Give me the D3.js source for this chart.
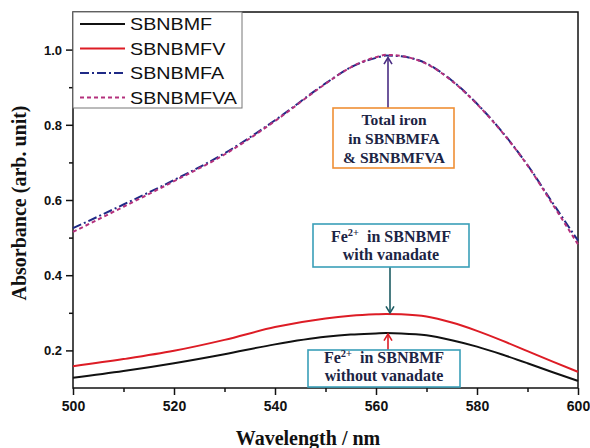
<!DOCTYPE html>
<html>
<head>
<meta charset="utf-8">
<script src="https://cdn.jsdelivr.net/npm/d3@7"></script>
<style>
body{margin:0;background:#fff;}
svg{display:block;}
text{white-space:pre;}
</style>
</head>
<body>
<div id="chart"></div>
<script>
const wavelengths=[500,510,520,530,540,550,555,560,562,565,570,575,580,585,590,595,600];
const sbnbmf=[0.127,0.145,0.166,0.190,0.216,0.236,0.242,0.245,0.246,0.245,0.240,0.227,0.210,0.189,0.166,0.142,0.119];
const sbnbmfv=[0.158,0.177,0.199,0.228,0.262,0.285,0.292,0.296,0.297,0.296,0.290,0.274,0.252,0.226,0.198,0.170,0.143];
const sbnbmfa=[0.525,0.588,0.653,0.724,0.812,0.910,0.953,0.978,0.984,0.982,0.963,0.918,0.856,0.781,0.693,0.592,0.492];
const sbnbmfva=[0.515,0.582,0.650,0.721,0.810,0.909,0.953,0.980,0.986,0.983,0.962,0.917,0.855,0.780,0.692,0.588,0.482];
const seriesNames=["SBNBMF","SBNBMFV","SBNBMFA","SBNBMFVA"];
const xTicks=[500,520,540,560,580,600];
const xMinor=[510,530,550,570,590];
const yTicks=[0.2,0.4,0.6,0.8,1.0];
const yMinor=[0.3,0.5,0.7,0.9];

const W=590,H=448;
const svg=d3.select("#chart").append("svg").attr("width",W).attr("height",H);

const x=d3.scaleLinear().domain([500,600]).range([73,578]);
const y=d3.scaleLinear().domain([0.1,1.1]).range([388,12]);

const styles=[
  {data:sbnbmf,color:"#111111",dash:null},
  {data:sbnbmfv,color:"#dd1c25",dash:null},
  {data:sbnbmfa,color:"#1f2a86",dash:"9,3,2,3"},
  {data:sbnbmfva,color:"#b4307c",dash:"4,3"}
];

const line=d3.line().x(d=>x(d[0])).y(d=>y(d[1])).curve(d3.curveMonotoneX);

// axes
const bottom=svg.append("g").attr("transform","translate(0,388)");
bottom.call(d3.axisBottom(x).tickValues(xTicks).tickSize(7).tickFormat(d3.format("d")));
bottom.append("g").call(d3.axisBottom(x).tickValues(xMinor).tickSize(4).tickFormat(""));
const left=svg.append("g").attr("transform","translate(73,0)");
left.call(d3.axisLeft(y).tickValues(yTicks).tickSize(7).tickFormat(d3.format(".1f")));
left.append("g").call(d3.axisLeft(y).tickValues(yMinor).tickSize(4).tickFormat(""));

svg.selectAll(".domain").remove();
svg.selectAll(".tick line").attr("stroke","#111").attr("stroke-width",1.5);
bottom.selectAll(".tick text").attr("y",10).attr("dy","0.9em")
  .style("font-family","Liberation Sans, Arial, sans-serif").style("font-weight","bold").style("font-size","14px").attr("fill","#111");
left.selectAll(".tick text").attr("x",-11).attr("dy","0.35em")
  .style("font-family","Liberation Sans, Arial, sans-serif").style("font-weight","bold").style("font-size","13px").attr("fill","#111");

// frame
svg.append("rect").attr("x",73).attr("y",12).attr("width",505).attr("height",376)
  .attr("fill","none").attr("stroke","#111").attr("stroke-width",1.5);

// curves
styles.forEach(s=>{
  svg.append("path")
    .datum(wavelengths.map((w,i)=>[w,s.data[i]]))
    .attr("d",line)
    .attr("fill","none")
    .attr("stroke",s.color)
    .attr("stroke-width",2)
    .attr("stroke-dasharray",s.dash);
});

// legend
const lg=svg.append("g");
lg.append("rect").attr("x",73).attr("y",12).attr("width",169).attr("height",96)
  .attr("fill","#fff").attr("stroke","#777").attr("stroke-width",1);
seriesNames.forEach((n,i)=>{
  const ly=24+i*24.5;
  lg.append("line").attr("x1",80).attr("x2",125).attr("y1",ly).attr("y2",ly)
    .attr("stroke",styles[i].color).attr("stroke-width",2).attr("stroke-dasharray",styles[i].dash);
  lg.append("text").attr("transform",`translate(130,${ly+6}) scale(1.16,1)`)
    .style("font-family","Liberation Sans, Arial, sans-serif").style("font-size","17px")
    .attr("fill","#111").text(n);
});

// axis titles
svg.append("text").attr("x",308).attr("y",445).attr("text-anchor","middle")
  .style("font-family","Liberation Serif, Times New Roman, serif").style("font-weight","bold").style("font-size","20px")
  .attr("fill","#111").text("Wavelength / nm");
svg.append("text").attr("transform","translate(26,203) rotate(-90)").attr("text-anchor","middle")
  .style("font-family","Liberation Serif, Times New Roman, serif").style("font-weight","bold").style("font-size","20px")
  .attr("fill","#111").text("Absorbance (arb. unit)");

// annotations
const serif="Liberation Serif, Times New Roman, serif";
function arrow(xp,y1,y2,color){
  svg.append("line").attr("x1",xp).attr("x2",xp).attr("y1",y1).attr("y2",y2)
    .attr("stroke",color).attr("stroke-width",1.6);
  const d=y2<y1?5:-5;
  svg.append("path").attr("d",`M${xp-4},${y2+d*1.3}L${xp},${y2}L${xp+4},${y2+d*1.3}`)
    .attr("fill","none").attr("stroke",color).attr("stroke-width",1.6);
}
function box(x0,y0,w,h,color){
  svg.append("rect").attr("x",x0).attr("y",y0).attr("width",w).attr("height",h)
    .attr("fill","#fff").attr("stroke",color).attr("stroke-width",1.6);
}
function label(cx,by,parts,size){
  const t=svg.append("text").attr("x",cx).attr("y",by).attr("text-anchor","middle")
    .style("font-family",serif).style("font-weight","bold").style("font-size",size+"px").attr("fill","#1c2444");
  parts.forEach(p=>{
    const s=t.append("tspan").text(p.t);
    if(p.sup) s.style("font-size",(size*0.65)+"px").attr("dy",-6);
    if(p.after) s.attr("dy",6);
  });
}

const peakA=d3.max(sbnbmfa), peakV=d3.max(sbnbmfv), peakF=d3.max(sbnbmf);

arrow(388,108,y(peakA)+2,"#4a2c83");
box(333,108,121,60,"#ef8f35");
label(394,125,[{t:"Total iron"}],15.5);
label(394,144,[{t:"in SBNBMFA"}],15.5);
label(394,162.5,[{t:"& SBNBMFVA"}],15.5);

arrow(390,267,y(peakV)-1,"#1d5c63");
box(313,224,156,43,"#3a9fb8");
label(391,241.5,[{t:"Fe"},{t:"2+",sup:true},{t:"  in SBNBMF",after:true}],16);
label(391,260,[{t:"with vanadate"}],16);

arrow(388,350,y(peakF)+1,"#dd1c25");
box(308,350,152,37,"#3a9fb8");
label(384,363,[{t:"Fe"},{t:"2+",sup:true},{t:"  in SBNBMF",after:true}],16);
label(384,381,[{t:"without vanadate"}],16);
</script>
</body>
</html>
